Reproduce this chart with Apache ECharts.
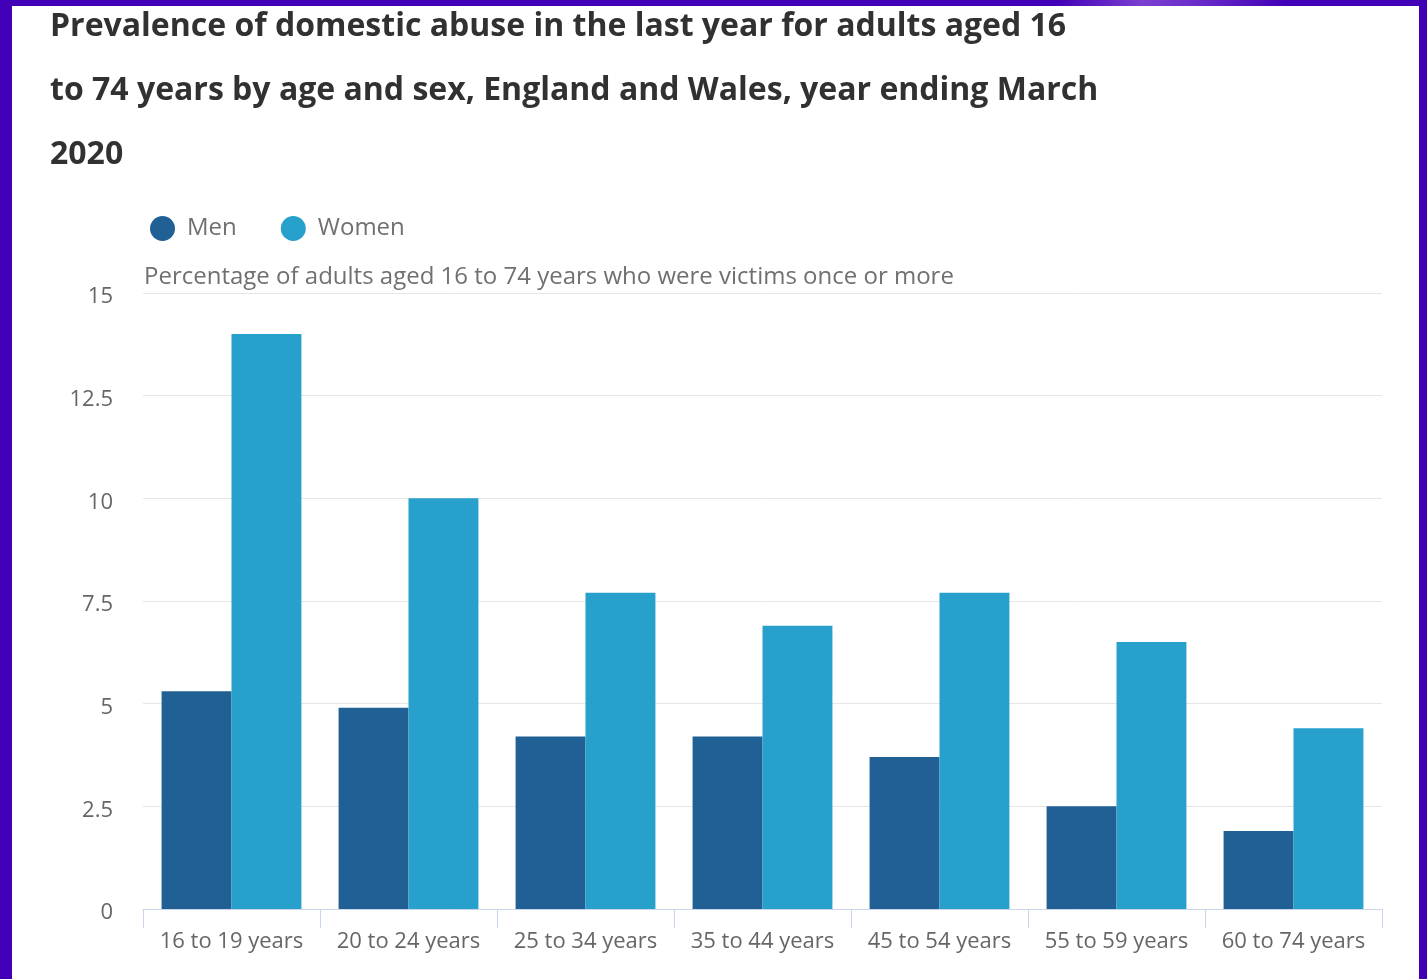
<!DOCTYPE html>
<html>
<head>
<meta charset="utf-8">
<title>Domestic abuse prevalence</title>
<script src="https://cdn.jsdelivr.net/npm/echarts@6/dist/echarts.min.js"></script>
<style>
    html, body { margin: 0; padding: 0; width: 1427px; height: 979px; overflow: hidden; }
    body { background: #4100b6; position: relative; }
    #topStrip { position: absolute; left: 0; top: 0; width: 1427px; height: 6px;
        background: linear-gradient(100deg, #4100b6 0%, #4100b6 74%, #7a3fd0 80%, #6a2cc8 84%, #4100b6 90%, #4100b6 100%); }
    #chart { position: absolute; left: 12px; top: 6px; width: 1407px; height: 973px; background: #fff; }
</style>
</head>
<body>
<div id="topStrip"></div>
<div id="chart"></div>
<script>
    // 年龄段
    var ageGroups = ['16 to 19 years', '20 to 24 years', '25 to 34 years', '35 to 44 years',
        '45 to 54 years', '55 to 59 years', '60 to 74 years'];
    // 男性 / 女性 百分比
    var menValues = [5.3, 4.9, 4.2, 4.2, 3.7, 2.5, 1.9];
    var womenValues = [14.0, 10.0, 7.7, 6.9, 7.7, 6.5, 4.4];
    var yTicks = [0, 2.5, 5, 7.5, 10, 12.5, 15];

    var titleText = 'Prevalence of domestic abuse in the last year for adults aged 16\n' +
        'to 74 years by age and sex, England and Wales, year ending March\n2020';
    var subTitleText = 'Percentage of adults aged 16 to 74 years who were victims once or more';

    var font = '"Open Sans", "Noto Sans", sans-serif';

    var option = {
        backgroundColor: '#ffffff',
        animation: false,
        title: [
            {
                text: titleText,
                left: 38,
                top: -11,
                padding: 0,
                textStyle: {
                    fontFamily: font,
                    fontWeight: 'bold',
                    fontSize: 32,
                    lineHeight: 64,
                    color: '#323132'
                }
            },
            {
                text: subTitleText,
                left: 132,
                top: 259,
                padding: 0,
                textStyle: {
                    fontFamily: font,
                    fontWeight: 'normal',
                    fontSize: 24,
                    color: '#707070'
                }
            }
        ],
        legend: {
            left: 138,
            top: 210,
            padding: 0,
            icon: 'circle',
            itemWidth: 25,
            itemHeight: 25,
            itemGap: 44,
            textStyle: {
                fontFamily: font,
                fontSize: 24,
                color: '#707070',
                padding: [0, 0, 0, 7]
            },
            data: ['Men', 'Women']
        },
        grid: {
            left: 131,
            right: 37,
            top: 287,
            bottom: 70,
            containLabel: false
        },
        xAxis: {
            type: 'category',
            data: ageGroups,
            axisLine: { lineStyle: { color: '#ccd6eb', width: 1 } },
            axisTick: { show: true, length: 19, lineStyle: { color: '#ccd6eb' } },
            axisLabel: {
                fontFamily: font,
                fontSize: 22,
                color: '#666666',
                margin: 22,
                interval: 0
            }
        },
        yAxis: {
            type: 'value',
            min: yTicks[0],
            max: yTicks[yTicks.length - 1],
            interval: 2.5,
            axisLine: { show: false },
            axisTick: { show: false },
            splitLine: { lineStyle: { color: '#e6e6e6', width: 1 } },
            axisLabel: {
                fontFamily: font,
                fontSize: 22,
                color: '#666666',
                margin: 30,
                verticalAlign: 'top',
                lineHeight: 8
            }
        },
        series: [
            {
                name: 'Men',
                type: 'bar',
                data: menValues,
                barGap: '0%',
                barCategoryGap: '21%',
                itemStyle: { color: '#206095' }
            },
            {
                name: 'Women',
                type: 'bar',
                data: womenValues,
                barGap: '0%',
                barCategoryGap: '21%',
                itemStyle: { color: '#27a0cc' }
            }
        ]
    };

    var myChart = echarts.init(document.getElementById('chart'));
    myChart.setOption(option);
</script>
</body>
</html>
